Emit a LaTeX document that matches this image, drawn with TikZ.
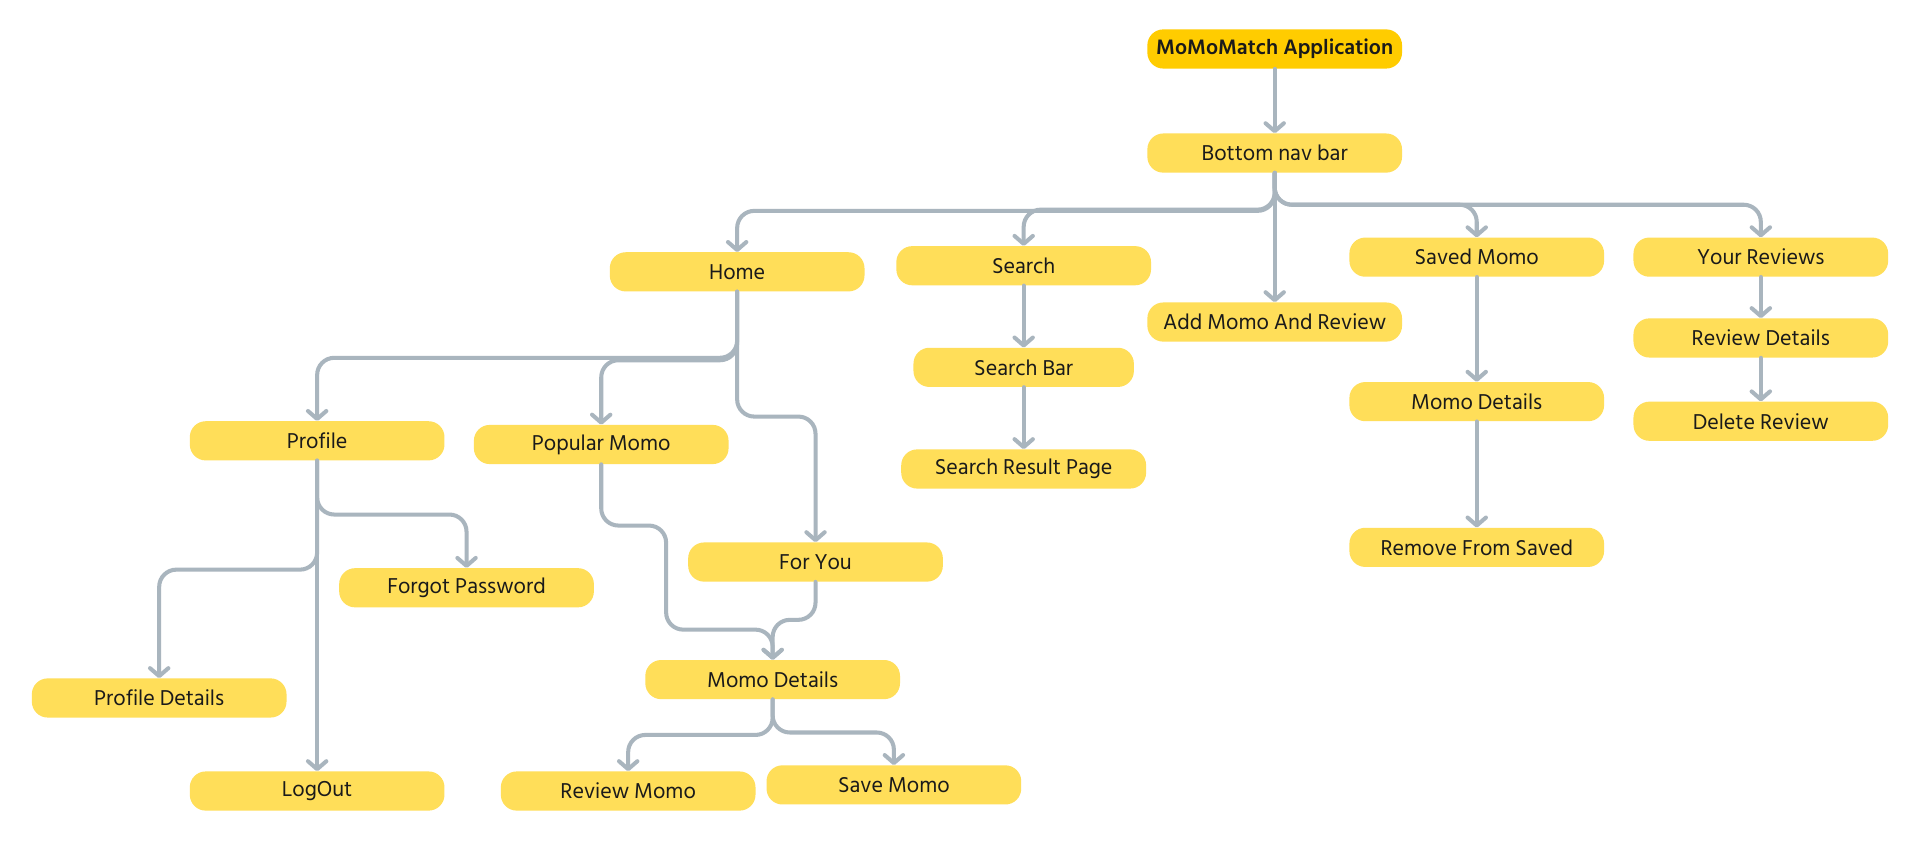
\documentclass[tikz,border=0pt]{standalone}
\usepackage{fontspec}
\setmainfont{Hind Siliguri}
\usetikzlibrary{arrows.meta}
\definecolor{boxyellow}{HTML}{FFDE59}
\definecolor{topyellow}{HTML}{FFCC00}
\definecolor{linegray}{HTML}{A9B5BE}
\definecolor{txt}{HTML}{1A1A1A}
\tikzset{
  box/.style={fill=boxyellow, rounded corners=13pt, minimum width=208pt, minimum height=32pt, inner sep=0pt, text=txt, font=\fontsize{18}{20}\selectfont},
  topbox/.style={box, fill=topyellow, font=\fontsize{17.5}{20}\selectfont\bfseries},
  conn/.style={draw=linegray, line width=3.3pt, rounded corners=14pt, line cap=round, -{Straight Barb[length=6.5pt,width=15pt,round]}}
}
\begin{document}
\begin{tikzpicture}[x=1pt,y=-1pt]
\useasboundingbox[fill=white] (0,0) rectangle (1568,690);
% nodes
\node[topbox] (app) at (1041,40) {MoMoMatch Application};
\node[box] (nav) at (1041,125) {Bottom nav bar};
\node[box] (home) at (602,222) {Home};
\node[box] (search) at (836,217) {Search};
\node[box] (add) at (1041,263) {Add Momo And Review};
\node[box] (saved) at (1206,210) {Saved Momo};
\node[box] (yourrev) at (1438,210) {Your Reviews};
\node[box] (revdet) at (1438,276) {Review Details};
\node[box] (delrev) at (1438,344) {Delete Review};
\node[box, minimum width=180pt] (sbar) at (836,300) {Search Bar};
\node[box, minimum width=200pt] (sres) at (836,383) {Search Result Page};
\node[box] (smd) at (1206,328) {Momo Details};
\node[box] (remove) at (1206,447) {Remove From Saved};
\node[box] (profile) at (259,360) {Profile};
\node[box] (popular) at (491,363) {Popular Momo};
\node[box] (foryou) at (666,459) {For You};
\node[box] (forgot) at (381,480) {Forgot Password};
\node[box] (pdet) at (130,570) {Profile Details};
\node[box] (logout) at (259,646) {LogOut};
\node[box] (md) at (631,555) {Momo Details};
\node[box] (review) at (513,646) {Review Momo};
\node[box] (save) at (730,641) {Save Momo};
% connectors
\draw[conn] (app.south) -- (nav.north);
\draw[conn] (nav.south) -- ++(0,31) -| (home.north);
\draw[conn] (nav.south) -- ++(0,30) -| (search.north);
\draw[conn] (nav.south) -- (add.north);
\draw[conn] (nav.south) -- ++(0,26) -| (saved.north);
\draw[conn] (nav.south) -- ++(0,26) -| (yourrev.north);
\draw[conn] (search.south) -- (sbar.north);
\draw[conn] (sbar.south) -- (sres.north);
\draw[conn] (saved.south) -- (smd.north);
\draw[conn] (smd.south) -- (remove.north);
\draw[conn] (yourrev.south) -- (revdet.north);
\draw[conn] (revdet.south) -- (delrev.north);
\draw[conn] (home.south) -- ++(0,54) -| (profile.north);
\draw[conn] (home.south) -- ++(0,56) -| (popular.north);
\draw[conn] (home.south) -- ++(0,102) -| (foryou.north);
\draw[conn] (profile.south) -- (logout.north);
\draw[conn] (profile.south) -- ++(0,44) -| (forgot.north);
\draw[conn] (profile.south) -- ++(0,89) -| (pdet.north);
\draw[conn] (popular.south) -- ++(0,50) -- ++(53,0) -- ++(0,85) -| (md.north);
\draw[conn] (foryou.south) -- ++(0,31) -| (md.north);
\draw[conn] (md.south) -- ++(0,29) -| (review.north);
\draw[conn] (md.south) -- ++(0,27) -| (save.north);
\end{tikzpicture}
\end{document}
